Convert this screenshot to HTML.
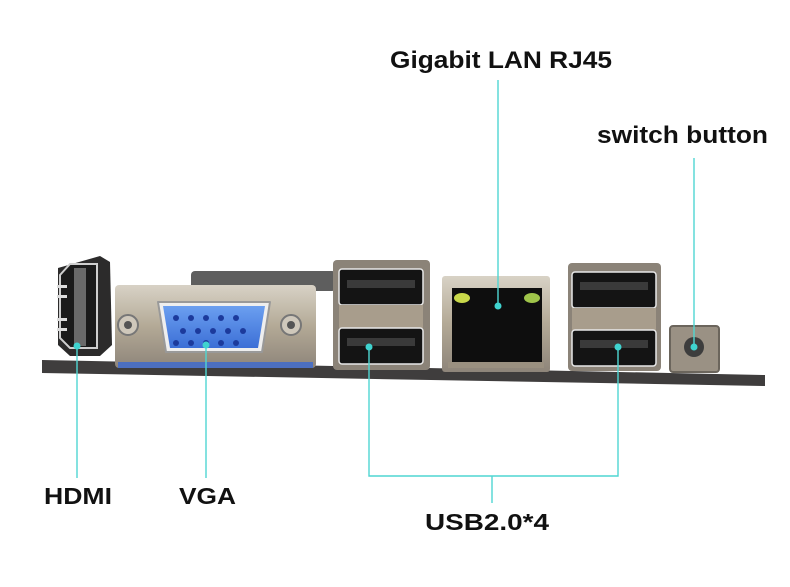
<!DOCTYPE html>
<html><head><meta charset="utf-8"><style>
html,body{margin:0;padding:0;background:#fff;}
svg{display:block;}
text{font-family:"Liberation Sans",sans-serif;font-weight:bold;fill:#111;}
</style></head><body>
<svg width="790" height="587" viewBox="0 0 790 587" xmlns="http://www.w3.org/2000/svg">
<defs>
<linearGradient id="silver" x1="0" y1="0" x2="0" y2="1">
<stop offset="0" stop-color="#d8d2c6"/><stop offset="0.5" stop-color="#b3a996"/><stop offset="1" stop-color="#8e857a"/>
</linearGradient>
<linearGradient id="blue" x1="0" y1="0" x2="0" y2="1">
<stop offset="0" stop-color="#6b9ff0"/><stop offset="1" stop-color="#3c6fd6"/>
</linearGradient>
</defs>
<!-- back dark bar -->
<rect x="191" y="271" width="145" height="20" rx="4" fill="#5e5e5e"/>
<!-- PCB -->
<polygon points="42,360 765,375 765,386 42,373" fill="#3f3d3d"/>
<!-- HDMI -->
<path d="M58,268 L100,256 L110,262 L112,345 L100,356 L70,356 L58,345 Z" fill="#2c2b2b"/>
<path d="M60,275 L70,264 L97,264 L97,348 L70,348 L60,338 Z" fill="#1b1b1b" stroke="#cfcfcf" stroke-width="2"/>
<rect x="74" y="268" width="12" height="78" fill="#6a6a6a"/>
<rect x="57" y="285" width="10" height="3" fill="#ddd"/><rect x="57" y="295" width="10" height="3" fill="#ddd"/>
<rect x="57" y="318" width="10" height="3" fill="#ddd"/><rect x="57" y="328" width="10" height="3" fill="#ddd"/>
<!-- VGA plate -->
<rect x="115" y="285" width="201" height="83" rx="4" fill="url(#silver)"/>
<rect x="118" y="362" width="195" height="6" fill="#4c6fc0"/>
<circle cx="128" cy="325" r="10" fill="#cfc8bb" stroke="#777" stroke-width="2"/><circle cx="128" cy="325" r="4" fill="#555"/>
<circle cx="291" cy="325" r="10" fill="#cfc8bb" stroke="#777" stroke-width="2"/><circle cx="291" cy="325" r="4" fill="#555"/>
<path d="M158,302 L270,302 L262,352 L166,352 Z" fill="#eee" stroke="#999" stroke-width="2" stroke-linejoin="round"/>
<path d="M163,306 L265,306 L258,348 L170,348 Z" fill="url(#blue)" stroke-linejoin="round"/>
<g fill="#1c3a9c">
<circle cx="176" cy="318" r="3"/><circle cx="191" cy="318" r="3"/><circle cx="206" cy="318" r="3"/><circle cx="221" cy="318" r="3"/><circle cx="236" cy="318" r="3"/>
<circle cx="183" cy="331" r="3"/><circle cx="198" cy="331" r="3"/><circle cx="213" cy="331" r="3"/><circle cx="228" cy="331" r="3"/><circle cx="243" cy="331" r="3"/>
<circle cx="176" cy="343" r="3"/><circle cx="191" cy="343" r="3"/><circle cx="206" cy="343" r="3"/><circle cx="221" cy="343" r="3"/><circle cx="236" cy="343" r="3"/>
</g>
<!-- USB 1 -->
<g>
<rect x="333" y="260" width="97" height="110" rx="4" fill="#8b8378"/>
<rect x="339" y="269" width="84" height="36" rx="3" fill="#141414" stroke="#e8e8e8" stroke-width="1.5"/>
<rect x="347" y="280" width="68" height="8" fill="#3a3a3a"/>
<rect x="339" y="305" width="84" height="23" fill="#a89d8c"/>
<rect x="339" y="328" width="84" height="36" rx="3" fill="#141414" stroke="#e8e8e8" stroke-width="1.5"/>
<rect x="347" y="338" width="68" height="8" fill="#3a3a3a"/>
</g>
<!-- RJ45 -->
<rect x="442" y="276" width="108" height="96" rx="3" fill="url(#silver)"/>
<rect x="452" y="288" width="90" height="76" fill="#0e0e0e"/>
<ellipse cx="462" cy="298" rx="8" ry="5" fill="#c8d84a"/>
<ellipse cx="532" cy="298" rx="8" ry="5" fill="#9fc44a"/>
<rect x="448" y="362" width="96" height="6" fill="#9a9080"/>
<!-- USB 2 -->
<g>
<rect x="568" y="263" width="93" height="108" rx="4" fill="#8b8378"/>
<rect x="572" y="272" width="84" height="36" rx="3" fill="#141414" stroke="#e8e8e8" stroke-width="1.5"/>
<rect x="580" y="282" width="68" height="8" fill="#3a3a3a"/>
<rect x="572" y="308" width="84" height="22" fill="#a89d8c"/>
<rect x="572" y="330" width="84" height="36" rx="3" fill="#141414" stroke="#e8e8e8" stroke-width="1.5"/>
<rect x="580" y="340" width="68" height="8" fill="#3a3a3a"/>
</g>
<!-- Button -->
<rect x="670" y="326" width="49" height="46" rx="3" fill="#9a9184" stroke="#6b655c" stroke-width="2"/>
<circle cx="694" cy="347" r="10" fill="#3d3d3d"/>
<!-- connector lines -->
<g stroke="#4fd6d2" stroke-width="1.4" fill="none">
<line x1="77" y1="346" x2="77" y2="478"/>
<line x1="206" y1="345" x2="206" y2="478"/>
<polyline points="369,347 369,476 618,476 618,347"/>
<line x1="492" y1="476" x2="492" y2="503"/>
<line x1="498" y1="80" x2="498" y2="306"/>
<line x1="694" y1="158" x2="694" y2="347"/>
</g>
<g fill="#3fd3cf">
<circle cx="77" cy="346" r="3.5"/><circle cx="206" cy="345" r="3.5"/>
<circle cx="369" cy="347" r="3.5"/><circle cx="618" cy="347" r="3.5"/>
<circle cx="498" cy="306" r="3.5"/><circle cx="694" cy="347" r="3.5"/>
</g>
<!-- labels -->
<text x="501" y="68" font-size="24" text-anchor="middle" textLength="222" lengthAdjust="spacingAndGlyphs">Gigabit LAN RJ45</text>
<text x="597" y="143" font-size="24" textLength="171" lengthAdjust="spacingAndGlyphs">switch button</text>
<text x="44" y="504" font-size="23" textLength="68" lengthAdjust="spacingAndGlyphs">HDMI</text>
<text x="179" y="504" font-size="23" textLength="57" lengthAdjust="spacingAndGlyphs">VGA</text>
<text x="425" y="530" font-size="23" textLength="124" lengthAdjust="spacingAndGlyphs">USB2.0*4</text>
</svg>
</body></html>
